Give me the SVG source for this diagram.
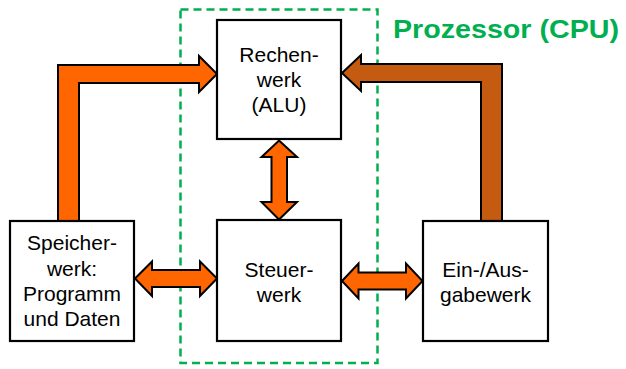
<svg xmlns="http://www.w3.org/2000/svg" width="626" height="369" viewBox="0 0 626 369">
<style>
.box{fill:#ffffff;stroke:#000000;stroke-width:2.2}
.lbl{font-family:"Liberation Sans",Arial,sans-serif;font-size:21px;fill:#000000;text-anchor:middle}
.arr{fill:#ff6600;stroke:#000000;stroke-width:2;stroke-linejoin:miter}
.arr2{fill:#c55a11;stroke:#000000;stroke-width:2;stroke-linejoin:miter}
.cpu{fill:none;stroke:#00b050;stroke-width:2.5;stroke-dasharray:8 5}
.title{font-family:"Liberation Sans",Arial,sans-serif;font-size:25px;font-weight:bold;fill:#00b050}
</style>
<rect width="626" height="369" fill="#ffffff"/>
<g id="cpu-boundary">
<rect class="cpu" x="180.5" y="9.5" width="197" height="353.5"/>
<text class="title" x="393" y="37.5" textLength="226" lengthAdjust="spacingAndGlyphs">Prozessor (CPU)</text>
</g>
<g id="connectors">
<polygon class="arr" points="58,221 58,65 199,65 199,56 217,74 199,92 199,83 79,83 79,221"/>
<polygon class="arr2" points="502,221 502,64 361,64 361,55 342,73 361,91 361,82 481,82 481,221"/>
<polygon class="arr" points="279,140.5 297,157 287,157 287,202 297,202 279,219.5 261.5,202 271.5,202 271.5,157 261.5,157"/>
<polygon class="arr" points="135,278.5 152,261.5 152,270 200,270 200,261.5 217,278.5 200,296 200,287 152,287 152,296"/>
<polygon class="arr" points="342,281 358.5,263.5 358.5,272.5 406,272.5 406,263.5 422.5,281 406,298.5 406,289.5 358.5,289.5 358.5,298.5"/>
</g>
<g id="alu">
<rect class="box" x="217" y="20" width="124" height="119"/>
<text class="lbl" x="279" y="61.5">Rechen-</text>
<text class="lbl" x="279" y="86.5">werk</text>
<text class="lbl" x="279" y="111.5">(ALU)</text>
</g>
<g id="steuerwerk">
<rect class="box" x="217" y="220" width="124" height="121"/>
<text class="lbl" x="279" y="276.5">Steuer-</text>
<text class="lbl" x="279" y="301.5">werk</text>
</g>
<g id="speicherwerk">
<rect class="box" x="10" y="221" width="124" height="120"/>
<text class="lbl" x="72" y="250">Speicher-</text>
<text class="lbl" x="72" y="275.5">werk:</text>
<text class="lbl" x="72" y="300.5">Programm</text>
<text class="lbl" x="72" y="325.5">und Daten</text>
</g>
<g id="ein-ausgabewerk">
<rect class="box" x="423" y="221" width="125" height="120"/>
<text class="lbl" x="485.5" y="276.5">Ein-/Aus-</text>
<text class="lbl" x="485.5" y="301.5">gabewerk</text>
</g>
</svg>
